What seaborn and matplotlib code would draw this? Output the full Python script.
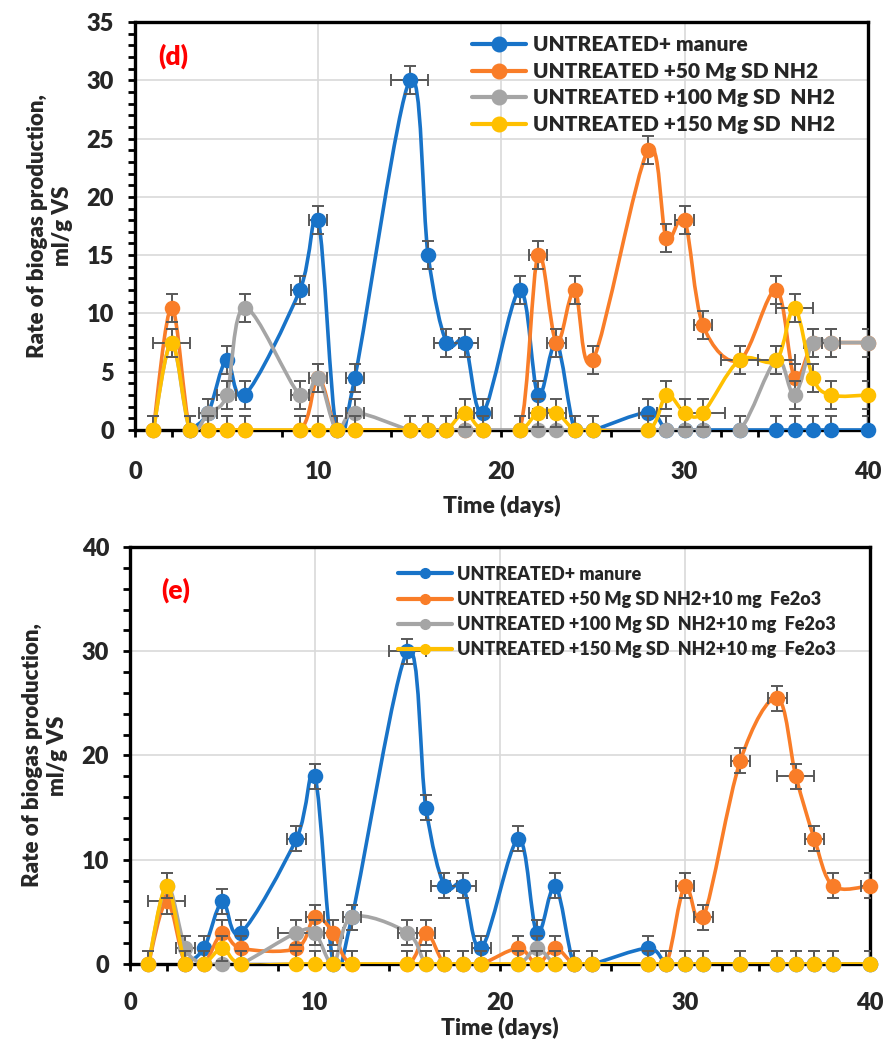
import numpy as np
import matplotlib
matplotlib.use("Agg")
import matplotlib.pyplot as plt
import seaborn as sns
from matplotlib.path import Path
from matplotlib.patches import PathPatch
from matplotlib.lines import Line2D
from matplotlib.ticker import MultipleLocator

sns.set_theme(style="white")
plt.rcParams["font.family"] = ["Lato", "DejaVu Sans"]
plt.rcParams["font.weight"] = "heavy"

nan = np.nan
DAYS = [1, 2, 3, 4, 5, 6, 9, 10, 11, 12, 15, 16, 17, 18, 19, 21, 22, 23, 24, 25,
        28, 29, 30, 31, 33, 35, 36, 37, 38, 40]

# ---- panel (d) ----
LABELS_D = ["UNTREATED+ manure", "UNTREATED +50 Mg SD NH2",
            "UNTREATED +100 Mg SD  NH2", "UNTREATED +150 Mg SD  NH2"]
BLUE_D = [nan, nan, 0, 1.5, 6, 3, 12, 18, 0, 4.5, 30, 15, 7.5, 7.5, 1.5, 12, 3, 7.5, 0, 0,
          1.5, 0, 0, 0, 0, 0, 0, 0, 0, 0]
ORANGE_D = [0, 10.5, 0, 0, 0, 0, 0, 4.5, 0, 0, 0, 0, 0, 0, 0, 0, 15, 7.5, 12, 6,
            24, 16.5, 18, 9, 6, 12, 4.5, 7.5, 7.5, 7.5]
GRAY_D = [0, 7.5, 0, 1.5, 3, 10.5, 3, 4.5, 0, 1.5, 0, 0, 0, 0, 0, 0, 0, 0, 0, 0,
          0, 0, 0, 0, 0, 6, 3, 7.5, 7.5, 7.5]
YELLOW_D = [0, 7.5, 0, 0, 0, 0, 0, 0, 0, 0, 0, 0, 0, 1.5, 0, 0, 1.5, 1.5, 0, 0,
            0, 3, 1.5, 1.5, 6, 6, 10.5, 4.5, 3, 3]
# horizontal error half-widths (day: value)
XERR_BLUE_D = {9: 0.5, 10: 0.5, 12: 0.5, 15: 1, 17: 0.7, 18: 0.7, 19: 0.5, 23: 0.5, 28: 0.5}
XERR_ORANGE_D = {22: 0.5, 30: 0.5, 31: 0.5}
XERR_GRAY_D = {4: 0.5, 5: 0.5, 9: 0.5, 10: 0.5, 12: 0.5, 37: 0.5, 38: 0.5}
XERR_YELLOW_D = {2: 1, 18: 0.5, 22: 0.5, 23: 0.5, 31: 1.2, 33: 1, 35: 1, 36: 1}
YERR_D = 1.2

# ---- panel (e) ----
LABELS_E = ["UNTREATED+ manure", "UNTREATED +50 Mg SD NH2+10 mg  Fe2o3",
            "UNTREATED +100 Mg SD  NH2+10 mg  Fe2o3", "UNTREATED +150 Mg SD  NH2+10 mg  Fe2o3"]
BLUE_E = [nan, nan, 0, 1.5, 6, 3, 12, 18, 0, 4.5, 30, 15, 7.5, 7.5, 1.5, 12, 3, 7.5, 0, 0,
          1.5, 0, 0, 0, 0, 0, 0, 0, 0, 0]
ORANGE_E = [0, 6, 0, 0, 3, 1.5, 1.5, 4.5, 3, 0, 0, 3, 0, 0, 0, 1.5, 0, 1.5, 0, 0,
            0, 0, 7.5, 4.5, 19.5, 25.5, 18, 12, 7.5, 7.5]
GRAY_E = [0, 7.5, 1.5, 0, 0, 0, 3, 3, 0, 4.5, 3, 0, 0, 0, 0, 0, 1.5, 0, 0, 0,
          0, 0, 0, 0, 0, 0, 0, 0, 0, 0]
YELLOW_E = [0, 7.5, 0, 0, 1.5, 0, 0, 0, 0, 0, 0, 0, 0, 0, 0, 0, 0, 0, 0, 0,
            0, 0, 0, 0, 0, 0, 0, 0, 0, 0]
XERR_BLUE_E = {9: 0.5, 15: 1, 17: 0.7, 18: 0.7, 19: 0.5}
XERR_ORANGE_E = {2: 1, 10: 0.5, 11: 0.5, 16: 0.5, 30: 0.5, 31: 0.5, 33: 0.5, 35: 0.5,
                 36: 1, 37: 0.5, 40: 0.5}
XERR_GRAY_E = {3: 0.5, 9: 1, 12: 0.5, 15: 0.5}
XERR_YELLOW_E = {}
YERR_E = 1.2

COLORS = ["#1873C8", "#F97D28", "#A5A5A5", "#FFC000"]
ERR_COLOR = "#595959"


def smooth_path(x, y):
    pts = np.column_stack([x, y])
    n = len(pts)
    verts = [pts[0]]
    codes = [Path.MOVETO]
    for i in range(n - 1):
        p0 = pts[i - 1] if i > 0 else pts[i]
        p1 = pts[i]
        p2 = pts[i + 1]
        p3 = pts[i + 2] if i + 2 < n else pts[i + 1]
        c1 = p1 + (p2 - p0) / 6.0
        c2 = p2 - (p3 - p1) / 6.0
        verts += [c1, c2, p2]
        codes += [Path.CURVE4] * 3
    return Path(verts, codes)


def draw_panel(ax, series, xerrs, labels, yerr, ymax, ymajor, yminor,
               leg_fs, leg_ms, leg_anchor, leg_hl, leg_ls, tag, tag_xy,
               xpad, xlabelpad):
    days = np.array(DAYS, dtype=float)
    for i, (vals, xe, color) in enumerate(zip(series, xerrs, COLORS)):
        v = np.array(vals, dtype=float)
        m = ~np.isnan(v)
        x = days[m]
        y = v[m]
        z = 3 + i
        patch = PathPatch(smooth_path(x, y), facecolor="none", edgecolor=color,
                          lw=2.6, capstyle="round", joinstyle="round",
                          transform=ax.transData, zorder=z)
        ax.add_patch(patch)
        xerr = np.array([xe.get(int(d), 0.0) for d in x])
        ax.errorbar(x, y, yerr=yerr, fmt="none", ecolor=ERR_COLOR, elinewidth=1.4,
                    capsize=4.5, capthick=1.4, zorder=z + 0.1)
        mx = xerr > 0
        if mx.any():
            ax.errorbar(x[mx], y[mx], xerr=xerr[mx], fmt="none", ecolor=ERR_COLOR,
                        elinewidth=1.4, capsize=4.5, capthick=1.4, zorder=z + 0.1)
        sns.scatterplot(x=x, y=y, color=color, s=125, linewidth=0, ax=ax,
                        zorder=z + 0.2, clip_on=False, legend=False)

    ax.set_xlim(0, 40)
    ax.set_ylim(0, ymax)
    ax.xaxis.set_major_locator(MultipleLocator(10))
    ax.xaxis.set_minor_locator(MultipleLocator(2))
    ax.yaxis.set_major_locator(MultipleLocator(ymajor))
    ax.yaxis.set_minor_locator(MultipleLocator(yminor))
    ax.grid(True, which="major", color="#D9D9D9", lw=1.2, zorder=0)
    ax.set_axisbelow(True)
    for s in ax.spines.values():
        s.set_visible(True)
        s.set_color("black")
        s.set_linewidth(2.4)
    ax.tick_params(axis="both", which="both", direction="out", length=5, width=2,
                   color="black", labelsize=17)
    ax.tick_params(axis="y", which="both", pad=10, left=True)
    ax.tick_params(axis="x", which="both", pad=xpad, bottom=True)
    ax.set_xlabel("Time (days)", fontsize=16.5, fontweight="heavy", labelpad=xlabelpad)
    ax.set_ylabel("Rate of biogas production,\nml/g VS", fontsize=16,
                  fontweight="heavy", labelpad=10)
    for lab in ax.get_xticklabels() + ax.get_yticklabels():
        lab.set_fontweight("heavy")

    handles = [Line2D([0], [0], color=c, lw=3, marker="o", markersize=leg_ms)
               for c in COLORS]
    ax.legend(handles, labels, loc="upper left", bbox_to_anchor=leg_anchor,
              frameon=False, handlelength=leg_hl,
              handletextpad=0.3, labelspacing=leg_ls, borderpad=0,
              borderaxespad=0, prop={"weight": "heavy", "size": leg_fs})
    ax.text(tag_xy[0], tag_xy[1], tag, transform=ax.transAxes, color="red",
            fontsize=19, fontweight="heavy", ha="center", va="center")


fig = plt.figure(figsize=(8.84, 10.47), dpi=100)
ax_d = fig.add_axes([0.1527, 0.5893, 0.829, 0.3897])
ax_e = fig.add_axes([0.147, 0.0793, 0.837, 0.3983])

draw_panel(ax_d, [BLUE_D, ORANGE_D, GRAY_D, YELLOW_D],
           [XERR_BLUE_D, XERR_ORANGE_D, XERR_GRAY_D, XERR_YELLOW_D],
           LABELS_D, YERR_D, 35, 5, 1, 15, 10.5, (0.46, 0.967), 2.6, 0.36,
           "(d)", (0.052, 0.917), 17, 9)
draw_panel(ax_e, [BLUE_E, ORANGE_E, GRAY_E, YELLOW_E],
           [XERR_BLUE_E, XERR_ORANGE_E, XERR_GRAY_E, XERR_YELLOW_E],
           LABELS_E, YERR_E, 40, 10, 2, 13, 7, (0.362, 0.955), 3.0, 0.45,
           "(e)", (0.062, 0.897), 15, 2)

fig.savefig("out.png", dpi=100)
